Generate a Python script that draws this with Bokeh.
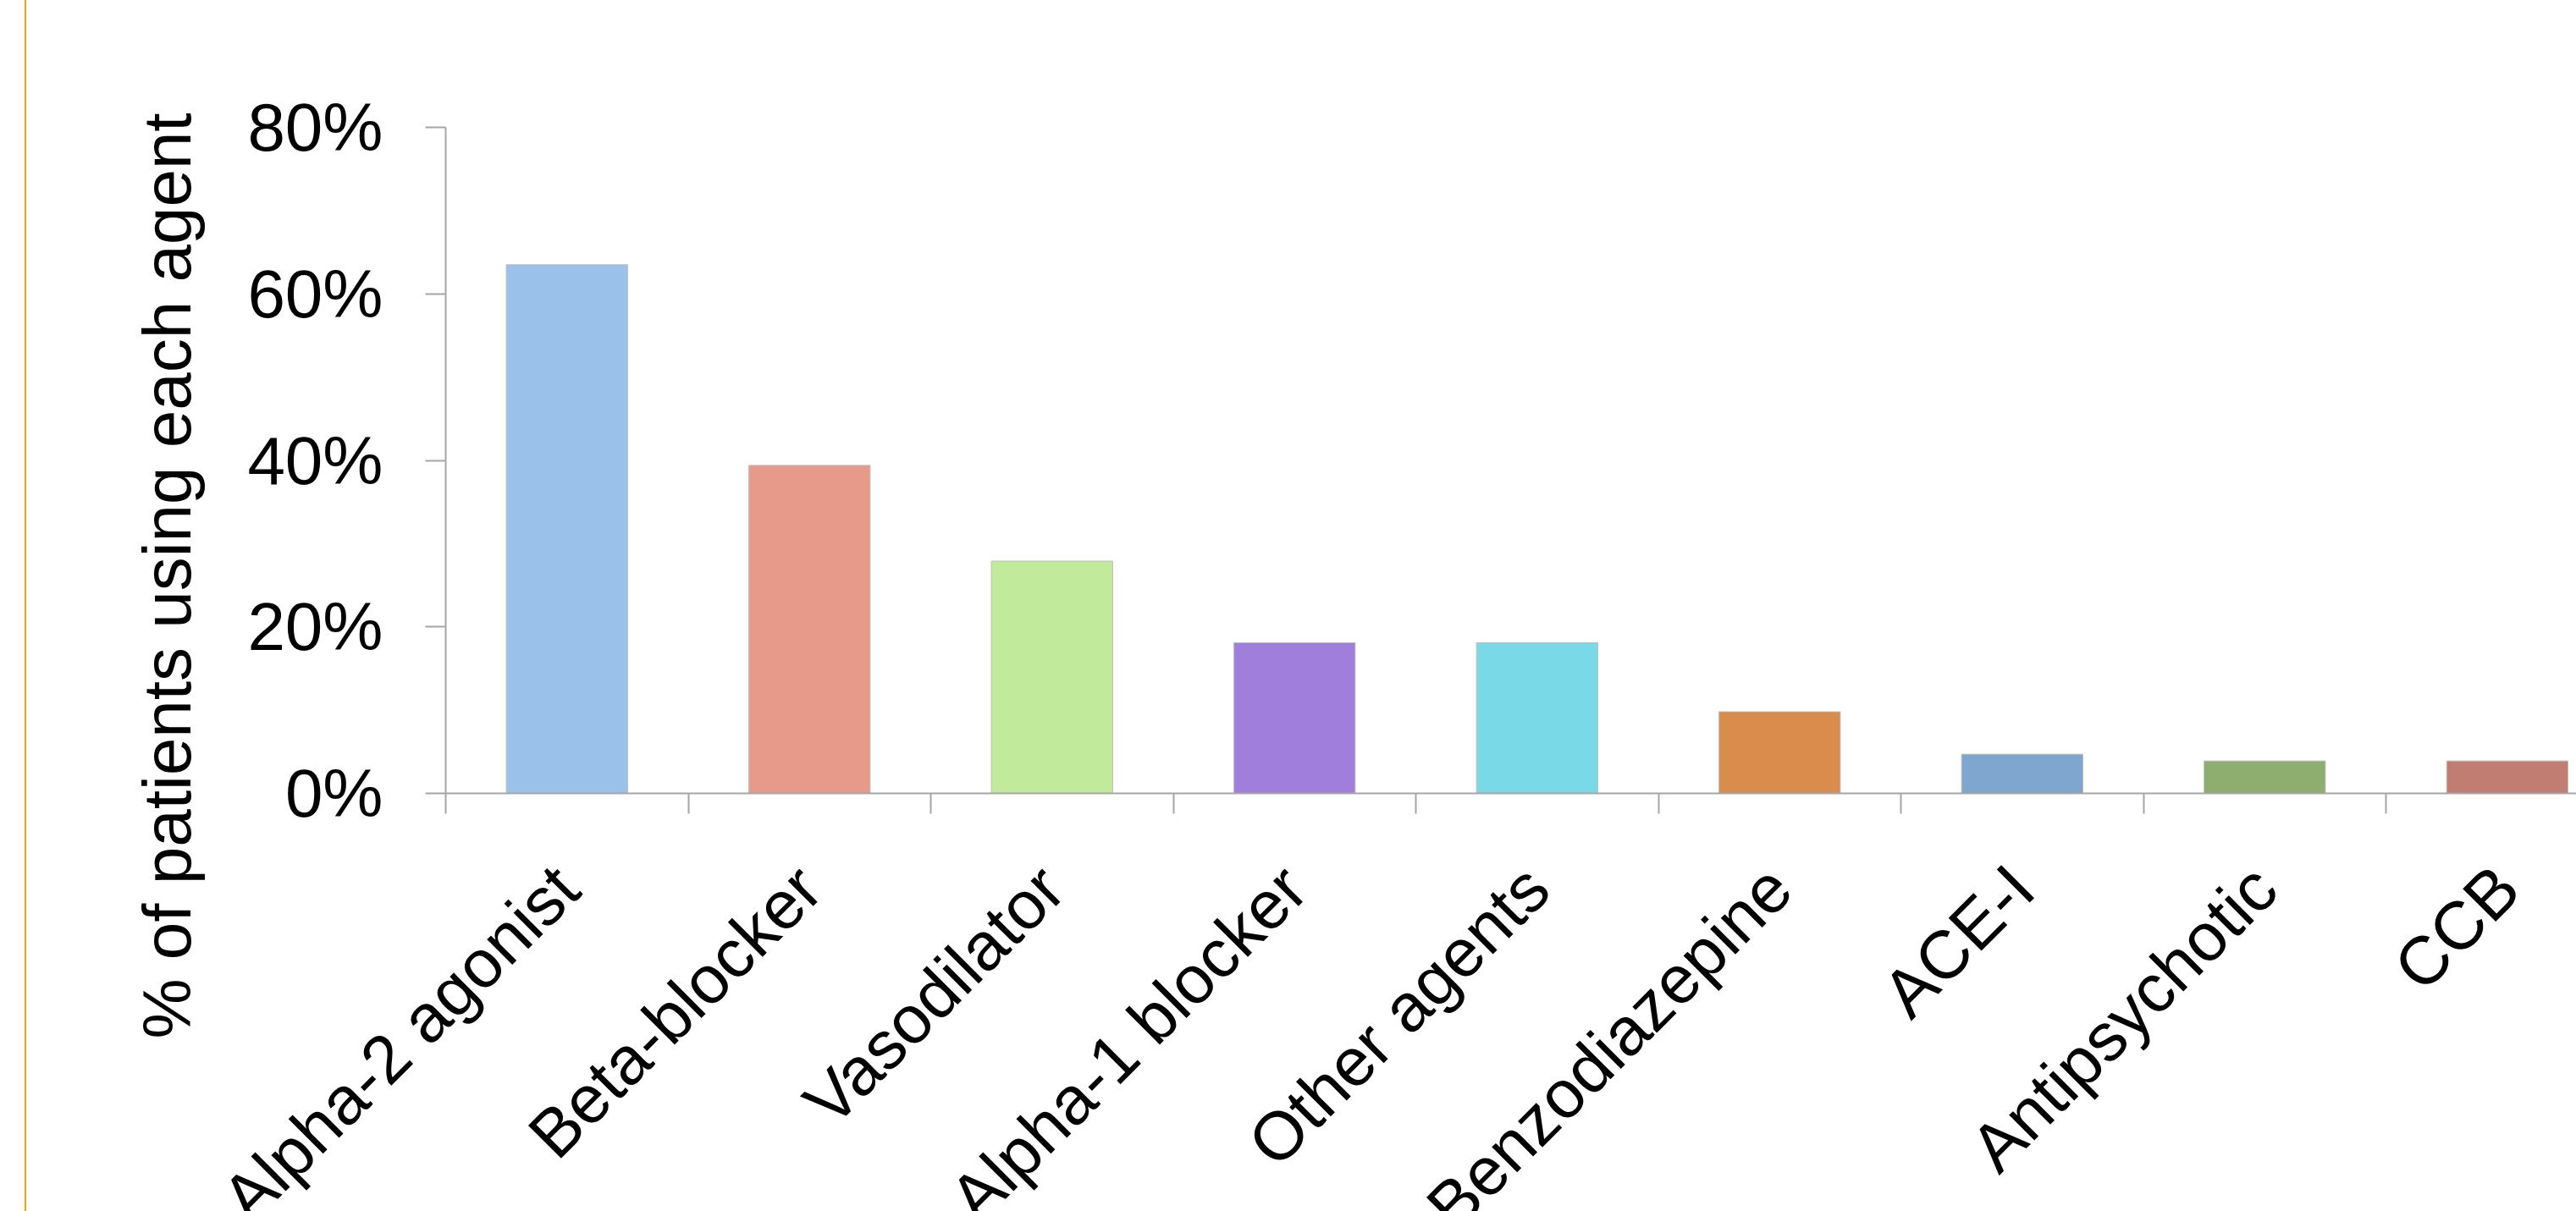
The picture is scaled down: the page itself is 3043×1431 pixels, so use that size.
import math
from bokeh.plotting import figure
from bokeh.models import Range1d, FixedTicker, Title, Div, Spacer
from bokeh.layouts import row
from bokeh.embed import file_html
from bokeh.resources import INLINE

categories = ["Alpha-2 agonist", "Beta-blocker", "Vasodilator", "Alpha-1 blocker",
              "Other agents", "Benzodiazepine", "ACE-I", "Antipsychotic", "CCB"]
values = [63.5, 39.4, 27.9, 18.1, 18.1, 9.8, 4.7, 3.9, 3.9]
colors = ["#99C1EA", "#E89A8A", "#C1EB9A", "#A07EDC", "#7AD9E6",
          "#D98C4C", "#7FA6CF", "#8DAE6E", "#C27D72"]
y_ticks = [0, 20, 40, 60, 80]
y_tick_labels = ["0%", "20%", "40%", "60%", "80%"]
y_title = "% of patients using each agent"

FONT = "Liberation Sans"
AXIS_COLOR = "#A6A6A6"

centers = [i + 0.5 for i in range(len(categories))]
bounds = list(range(len(categories) + 1))

p = figure(output_backend="svg", toolbar_location=None,
           frame_width=2517, frame_height=787,
           min_border_left=495, min_border_top=150, min_border_right=0, min_border_bottom=0,
           x_range=Range1d(0, 8.785), y_range=Range1d(0, 80),
           background_fill_color="white", border_fill_color="white")
p.outline_line_color = None
p.xgrid.visible = False
p.ygrid.visible = False

p.vbar(x=centers, top=values, width=0.5, fill_color=colors,
       line_color="#BBBBBB", line_width=1)

# x axis
xa = p.xaxis[0]
xa.ticker = FixedTicker(ticks=centers, minor_ticks=bounds)
xa.major_label_overrides = {c: n for c, n in zip(centers, categories)}
xa.major_tick_line_color = None
xa.minor_tick_line_color = AXIS_COLOR
xa.minor_tick_line_width = 2
xa.minor_tick_in = 0
xa.minor_tick_out = 24
xa.axis_line_color = AXIS_COLOR
xa.axis_line_width = 2
xa.major_label_orientation = math.pi / 4
xa.major_label_text_font = FONT
xa.major_label_text_font_size = "80px"
xa.major_label_text_color = "black"
xa.major_label_standoff = 75

# y axis
ya = p.yaxis[0]
ya.ticker = FixedTicker(ticks=y_ticks)
ya.major_label_overrides = {t: l for t, l in zip(y_ticks, y_tick_labels)}
ya.major_tick_line_color = AXIS_COLOR
ya.major_tick_line_width = 2
ya.major_tick_in = 0
ya.major_tick_out = 24
ya.minor_tick_line_color = None
ya.axis_line_color = AXIS_COLOR
ya.axis_line_width = 2
ya.major_label_text_font = FONT
ya.major_label_text_font_size = "80px"
ya.major_label_text_color = "black"
ya.major_label_standoff = 50

t = Title(text=y_title, align="left", offset=-290, standoff=95,
          text_font=FONT, text_font_size="80px", text_font_style="normal",
          text_color="black")
p.add_layout(t, "left")

gap = Spacer(width=29, height=1431, margin=0)
line = Div(width=2, height=1431, margin=0, styles={"background-color": "#F0A020"})
layout = row(gap, line, p, margin=0)

open("out.html", "w").write(file_html(layout, INLINE))
